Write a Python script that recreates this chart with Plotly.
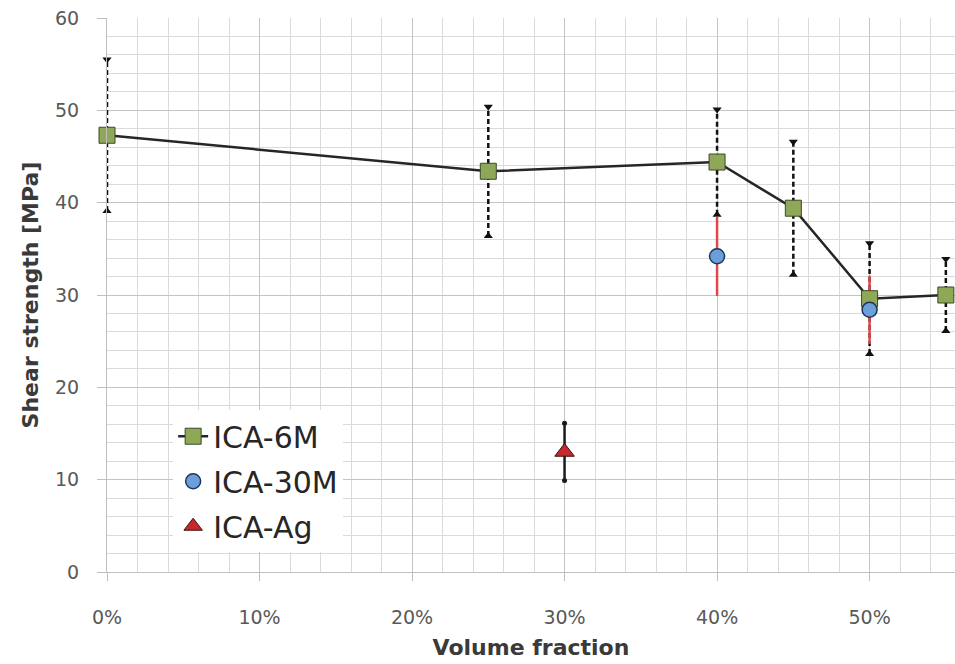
import plotly.graph_objects as go

# Volume fraction of filler and measured shear strength (mean and +/- spread)
frac_6m = [0.00, 0.25, 0.40, 0.45, 0.50, 0.55]
shear_6m = [47.3, 43.4, 44.4, 39.4, 29.6, 30.0]
err_6m = [8.2, 7.0, 5.7, 7.2, 6.0, 3.9]

frac_30m = [0.40, 0.50]
shear_30m = [34.2, 28.4]
err_30m = [4.3, 3.7]

frac_ag = [0.30]
shear_ag = [13.0]
err_ag = [3.1]

x_ticks = [0.0, 0.1, 0.2, 0.3, 0.4, 0.5]
y_ticks = [0, 10, 20, 30, 40, 50, 60]


def bar_segments(xs, ys, es):
    """Vertical segments (mean - err .. mean + err) separated by gaps."""
    bx, by = [], []
    for x, y, e in zip(xs, ys, es):
        bx += [x, x, None]
        by += [y - e, y + e, None]
    return bx, by


fig = go.Figure()

# ICA-6M dashed error bars
bx, by = bar_segments(frac_6m, shear_6m, err_6m)
fig.add_trace(go.Scatter(x=bx, y=by, mode="lines", showlegend=False, hoverinfo="skip",
                         cliponaxis=False,
                         line=dict(color="#111111", width=2.5, dash="5px,3px")))
fig.add_trace(go.Scatter(x=frac_6m, y=[y + e for y, e in zip(shear_6m, err_6m)], mode="markers",
                         showlegend=False, hoverinfo="skip", cliponaxis=False,
                         marker=dict(symbol="triangle-down", size=8, color="#111111")))
fig.add_trace(go.Scatter(x=frac_6m, y=[y - e for y, e in zip(shear_6m, err_6m)], mode="markers",
                         showlegend=False, hoverinfo="skip", cliponaxis=False,
                         marker=dict(symbol="triangle-up", size=8, color="#111111")))

# ICA-30M red error bars
bx, by = bar_segments(frac_30m, shear_30m, err_30m)
fig.add_trace(go.Scatter(x=bx, y=by, mode="lines", showlegend=False, hoverinfo="skip",
                         line=dict(color="#e0474c", width=2.5)))

# ICA-Ag error bar
bx, by = bar_segments(frac_ag, shear_ag, err_ag)
fig.add_trace(go.Scatter(x=bx, y=by, mode="lines", showlegend=False, hoverinfo="skip",
                         line=dict(color="#1a1a1a", width=2.5)))
fig.add_trace(go.Scatter(x=frac_ag * 2,
                         y=[shear_ag[0] + err_ag[0], shear_ag[0] - err_ag[0]],
                         mode="markers", showlegend=False, hoverinfo="skip",
                         marker=dict(symbol="circle", size=5, color="#1a1a1a")))

# Main series
fig.add_trace(go.Scatter(x=frac_6m, y=shear_6m, mode="lines+markers", name="ICA-6M",
                         legendgroup="a", cliponaxis=False,
                         line=dict(color="#262626", width=2.5),
                         marker=dict(symbol="square", size=16, color="#8fa858",
                                     line=dict(color="#3a4a2a", width=1))))
fig.add_trace(go.Scatter(x=frac_30m, y=shear_30m, mode="markers", name="ICA-30M",
                         legendgroup="b",
                         marker=dict(symbol="circle", size=15, color="#6b9fdc",
                                     line=dict(color="#1f3556", width=1.5))))
fig.add_trace(go.Scatter(x=frac_ag, y=shear_ag, mode="markers", name="ICA-Ag",
                         legendgroup="c",
                         marker=dict(symbol="triangle-up", size=17, color="#c8282b",
                                     line=dict(color="#3a1010", width=1))))

tick_font = dict(family="DejaVu Sans", size=19, color="#595959")
title_font = dict(family="DejaVu Sans", size=22, color="#3a3a3a", weight="bold")

fig.update_layout(
    width=955, height=664,
    margin=dict(l=107, r=0, t=18, b=92),
    paper_bgcolor="white", plot_bgcolor="white",
    showlegend=True,
    legend=dict(x=0.078, y=0.292, xanchor="left", yanchor="top",
                bgcolor="white", borderwidth=0, tracegroupgap=3,
                font=dict(family="DejaVu Sans", size=30, color="#262626")),
    xaxis=dict(range=[0, 0.556], tickvals=x_ticks, tickformat=".0%",
               showgrid=True, gridcolor="#c4c4c4", gridwidth=1,
               minor=dict(dtick=0.02, showgrid=True, gridcolor="#dadada", gridwidth=1),
               ticks="outside", ticklen=8, tickcolor="#bfbfbf",
               showline=True, linecolor="#bfbfbf", linewidth=1,
               zeroline=False, tickfont=tick_font, ticklabelstandoff=20,
               title=dict(text="Volume fraction", font=title_font, standoff=12)),
    yaxis=dict(range=[0, 60], tickvals=y_ticks,
               showgrid=True, gridcolor="#c4c4c4", gridwidth=1,
               minor=dict(dtick=2, showgrid=True, gridcolor="#dadada", gridwidth=1),
               ticks="outside", ticklen=9, tickcolor="#bfbfbf",
               showline=True, linecolor="#bfbfbf", linewidth=1,
               zeroline=False, tickfont=tick_font, ticklabelstandoff=14,
               title=dict(text="Shear strength [MPa]", font=title_font, standoff=10)),
)

fig.write_html("out.html")
